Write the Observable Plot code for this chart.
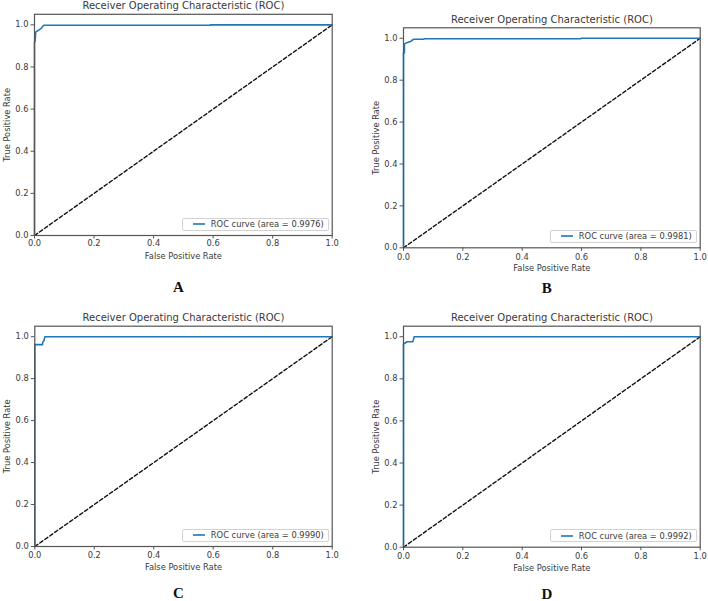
<!DOCTYPE html>
<html><head><meta charset="utf-8">
<script src="https://cdn.jsdelivr.net/npm/d3@7"></script>
<script src="https://cdn.jsdelivr.net/npm/@observablehq/plot@0.6"></script>
<style>
body{margin:0;background:#fff;}
#wrap{position:relative;width:708px;height:601px;overflow:hidden;font-family:"DejaVu Sans",sans-serif;}
.panel{position:absolute;width:354px;}
.panel svg{overflow:visible;}
.legend{position:absolute;background:#fff;border:1px solid #d2d2d2;border-radius:2px;height:13px;display:flex;align-items:center;font-size:8.3px;color:#3a3a3a;box-sizing:border-box;white-space:nowrap;padding-right:4px;font-family:"DejaVu Sans",sans-serif;}
.legend svg.sw{display:block;margin:0 5.5px 0 10px;}
</style></head><body><div id="wrap"></div>
<script>
// ---- data ----
const titleText = "Receiver Operating Characteristic (ROC)";
const xLabelText = "False Positive Rate";
const yLabelText = "True Positive Rate";
const panelLetters = ["A", "B", "C", "D"];
const aucValues = ["0.9976", "0.9981", "0.9990", "0.9992"];
const xTicks = [0.0, 0.2, 0.4, 0.6, 0.8, 1.0];
const yTicks = [0.0, 0.2, 0.4, 0.6, 0.8, 1.0];
const diagX = [0, 1];
const diagY = [0, 1];

const fprA = [0, 0,    0.002, 0.004, 0.015, 0.022, 0.026, 0.031, 0.59,  0.59, 1];
const tprA = [0, 0.92, 0.92,  0.965, 0.976, 0.982, 0.99,  0.998, 0.998, 1.0,  1];

const fprB = [0, 0,    0.003, 0.003, 0.011, 0.026, 0.033, 0.068, 0.07,  0.598, 0.6, 1];
const tprB = [0, 0.93, 0.93,  0.972, 0.979, 0.986, 0.995, 0.995, 0.998, 0.998, 1.0, 1];

const fprC = [0, 0,     0.026, 0.027, 0.031, 0.034, 1];
const tprC = [0, 0.962, 0.962, 0.975, 0.982, 1.0,   1];

const fprD = [0, 0,     0.003, 0.012, 0.031, 0.033, 0.036, 1];
const tprD = [0, 0.965, 0.968, 0.976, 0.976, 0.985, 1.0,   1];

const curvesX = [fprA, fprB, fprC, fprD];
const curvesY = [tprA, tprB, tprC, tprD];

// ---- layout (positions only) ----
const layout = [
  {left: 0,   top: 0,   h: 300, mL: 34,   mR: 22.3, mT: 13.8, mB: 65,   tickPad: 1,   letterDy: 52},
  {left: 354, top: 0,   h: 300, mL: 49,   mR: 8.3,  mT: 27.3, mB: 52.7, tickPad: 2.5, letterDy: 40},
  {left: 0,   top: 300, h: 301, mL: 34.3, mR: 22.3, mT: 25.7, mB: 55,   tickPad: 2.5, letterDy: 47},
  {left: 354, top: 300, h: 301, mL: 49,   mR: 8.3,  mT: 25.7, mB: 54.3, tickPad: 2.5, letterDy: 46.5}
];

const wrap = document.getElementById("wrap");
const textColor = "#3a3a3a";
const rocColor = "#1f77b4";

layout.forEach((L, i) => {
  const curve = curvesX[i].map((x, k) => ({x, y: curvesY[i][k]}));
  const diag = diagX.map((x, k) => ({x, y: diagY[k]}));
  const chart = Plot.plot({
    width: 354,
    height: L.h,
    marginLeft: L.mL, marginRight: L.mR, marginTop: L.mT, marginBottom: L.mB,
    style: {fontFamily: "DejaVu Sans, sans-serif", fontSize: "8.3px", color: textColor, background: "transparent", overflow: "visible"},
    x: {domain: [0, 1]},
    y: {domain: [0, 1.05]},
    marks: [
      Plot.line(diag, {x: "x", y: "y", stroke: "#111", strokeWidth: 1.4, strokeDasharray: "3.7,2.4"}),
      Plot.line(curve, {x: "x", y: "y", stroke: rocColor, strokeWidth: 1.6, curve: "linear"}),
      Plot.frame({stroke: "#555", strokeWidth: 1.2}),
      Plot.axisX({ticks: xTicks, tickFormat: d => d.toFixed(1), tickSize: 3.5, tickPadding: L.tickPad, label: null, stroke: "#555", fill: textColor, fontSize: 8.3}),
      Plot.axisY({ticks: yTicks, tickFormat: d => d.toFixed(1), tickSize: 3.5, tickPadding: 2.5, label: null, stroke: "#555", fill: textColor, fontSize: 8.3}),
      Plot.text([titleText], {frameAnchor: "top", dy: -8.3, lineAnchor: "middle", fontSize: 10, fill: textColor}),
      Plot.text([xLabelText], {frameAnchor: "bottom", dy: 21, lineAnchor: "middle", fontSize: 8.3, fill: textColor}),
      Plot.text([yLabelText], {frameAnchor: "left", dx: -27, rotate: -90, textAnchor: "middle", lineAnchor: "middle", fontSize: 8.3, fill: textColor}),
      Plot.text([panelLetters[i]], {frameAnchor: "bottom", dy: L.letterDy, dx: -5, lineAnchor: "middle", fontSize: 15, fontWeight: "bold", fontFamily: "Liberation Serif, serif", fill: "#111"})
    ]
  });
  const div = document.createElement("div");
  div.className = "panel";
  div.style.left = L.left + "px";
  div.style.top = L.top + "px";
  div.style.height = L.h + "px";
  div.appendChild(chart);
  const leg = document.createElement("div");
  leg.className = "legend";
  leg.style.right = (L.mR + 3) + "px";
  leg.style.bottom = (L.mB + 4.5) + "px";
  const ns = "http://www.w3.org/2000/svg";
  const sw = document.createElementNS(ns, "svg");
  sw.setAttribute("class", "sw");
  sw.setAttribute("width", "12");
  sw.setAttribute("height", "4");
  const ln = document.createElementNS(ns, "line");
  ln.setAttribute("x1", "0"); ln.setAttribute("x2", "12");
  ln.setAttribute("y1", "2"); ln.setAttribute("y2", "2");
  ln.setAttribute("stroke", rocColor);
  ln.setAttribute("stroke-width", "1.6");
  sw.appendChild(ln);
  const tx = document.createElement("span");
  tx.textContent = "ROC curve (area = " + aucValues[i] + ")";
  leg.appendChild(sw);
  leg.appendChild(tx);
  div.appendChild(leg);
  wrap.appendChild(div);
});
</script>
</body></html>
